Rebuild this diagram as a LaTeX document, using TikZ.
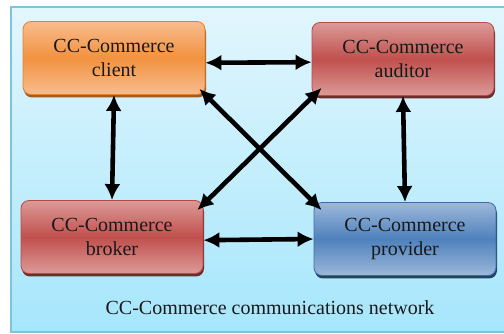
\documentclass[tikz,border=0pt]{standalone}
\usepackage{fontspec}
\setmainfont{Liberation Serif}
\usetikzlibrary{arrows.meta,shadows,calc}
\definecolor{hgoben}{HTML}{E2F6FD}
\definecolor{hgunten}{HTML}{A6E6FC}
\definecolor{rahmenblau}{HTML}{7EC4DA}
\definecolor{orhell}{HTML}{F8BC8E}
\definecolor{ormitte}{HTML}{F29240}
\definecolor{orrand}{HTML}{E5822F}
\definecolor{rothell}{HTML}{DC9A98}
\definecolor{rotmitte}{HTML}{C0504D}
\definecolor{rotrand}{HTML}{B84A47}
\definecolor{blauhell}{HTML}{9DB8DA}
\definecolor{blaumitte}{HTML}{4F81BD}
\definecolor{blaurand}{HTML}{3C6CA8}
\tikzset{
  kasten/.style={rounded corners=8pt, minimum width=182pt, minimum height=73pt,
    align=center, line width=0.8pt, text=black!90,
    font=\fontsize{20}{24}\selectfont},
  orangekasten/.style={kasten, draw=orrand, top color=orhell, bottom color=orhell,
    middle color=ormitte, drop shadow={shadow xshift=1pt, shadow yshift=-3pt, fill=orrand!70!black, opacity=1}},
  rotkasten/.style={kasten, draw=rotrand, top color=rothell, bottom color=rothell,
    middle color=rotmitte, drop shadow={shadow xshift=1pt, shadow yshift=-3pt, fill=rotrand!60!black, opacity=1}},
  blaukasten/.style={kasten, draw=blaurand, top color=blauhell, bottom color=blauhell,
    middle color=blaumitte, drop shadow={shadow xshift=1pt, shadow yshift=-3pt, fill=blaurand!60!black, opacity=1}},
  pfeil/.style={line width=4.6pt, {Latex[length=16pt,width=16pt]}-{Latex[length=16pt,width=16pt]}}
}
\begin{document}
\begin{tikzpicture}[x=1pt,y=-1pt]
    \useasboundingbox (0,0) rectangle (504,334);
    % Hintergrund
    \fill[top color=hgoben, bottom color=hgunten] (11,7) rectangle (504,332);
    \draw[rahmenblau, line width=1.2pt] (504,7) -- (11,7) -- (11,332) -- (504,332);
    % Kaesten
    \node[orangekasten] (client) at (114,58) {CC-Commerce\\client};
    \node[rotkasten] (auditor) at (403,59) {CC-Commerce\\auditor};
    \node[rotkasten] (broker) at (112,237) {CC-Commerce\\broker};
    \node[blaukasten] (provider) at (405,239) {CC-Commerce\\provider};
    \node[font=\fontsize{20}{24}\selectfont, text=black!90] (netz) at (270,308) {CC-Commerce communications network};
    % gerade Pfeile
    \foreach \a/\b in {client.-3/auditor.182, broker.-2/provider.180,
                       client.south/broker.north, auditor.south/provider.north}
    \draw[pfeil] (\a) -- (\b);
    % Pfeile ueber Kreuz
    \draw[pfeil] ($(client.south east)+(-6,-6)$) -- ($(provider.north west)+(8,8)$);
    \draw[pfeil] ($(auditor.south west)+(10,-8)$) -- ($(broker.north east)+(-6,10)$);
\end{tikzpicture}
\end{document}
